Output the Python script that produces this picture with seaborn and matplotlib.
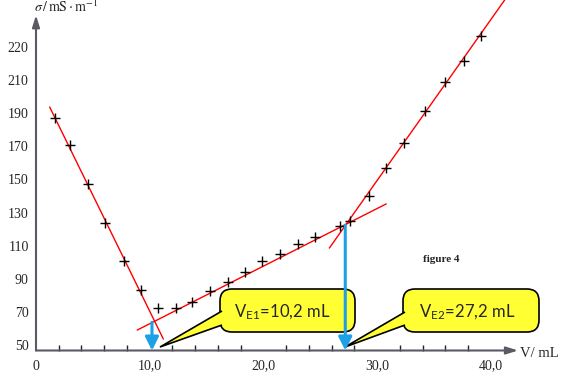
import matplotlib
matplotlib.use("Agg")
import matplotlib.pyplot as plt
import matplotlib.ticker as ticker
from matplotlib.patches import FancyBboxPatch, Polygon
import seaborn as sns
import numpy as np

# titration data: volume (mL) and conductivity
V = [1.7, 3.0, 4.6, 6.1, 7.7, 9.2, 10.7, 12.3, 13.7, 15.3, 16.9, 18.4, 19.9,
     21.5, 23.0, 24.5, 26.7, 27.6, 29.3, 30.8, 32.4, 34.2, 36.0, 37.6, 39.1]
sigma = [190.1, 173.8, 150.3, 126.8, 103.9, 86.4, 75.6, 75.6, 79.2, 85.8, 91.3,
         97.3, 103.9, 108.1, 114.2, 118.4, 125.0, 128.0, 143.1, 159.9, 175.0,
         194.3, 211.7, 224.4, 239.5]

# fitted straight lines (end points)
line1_x = [1.2, 11.2]
line1_y = [196.7, 56.9]
line2_x = [8.9, 30.8]
line2_y = [62.3, 138.3]
line3_x = [25.8, 42.0]
line3_y = [111.7, 268.7]

# equivalence volumes
VE = [10.2, 27.2]
VE_sigma = [67.0, 125.5]
VE_text = [r"V$_{\mathregular{E1}}$=10,2 mL", r"V$_{\mathregular{E2}}$=27,2 mL"]

yticks = [50, 70, 90, 110, 130, 150, 170, 190, 210, 230]
ylabels = ["50", "70", "90", "110", "130", "150", "170", "190", "210", "220"]
xticks = [0, 10, 20, 30, 40]
xlabels = ["0", "10,0", "20,0", "30,0", "40,0"]
xminor = [2, 4, 6, 8, 12, 14, 16, 18, 22, 24, 26, 28, 32, 34, 36, 38]

sns.set_style("white")
plt.rcParams["font.family"] = ["Liberation Serif", "DejaVu Serif"]
plt.rcParams["mathtext.fontset"] = "stix"

fig = plt.figure(figsize=(5.61, 3.77), dpi=100)
ax = fig.add_axes([36/561, 26.5/377, 525/561, 350.5/377])
ax.set_xlim(0, 525/11.37)
ax.set_ylim(50, 50 + 350.5/1.66)

axcol = "#5a5a66"
for s in ax.spines.values():
    s.set_visible(False)

# axes with arrows
ax.annotate("", xy=(42.4, 50), xytext=(0, 50),
            arrowprops=dict(arrowstyle="-|>,head_length=0.7,head_width=0.22",
                            color=axcol, lw=1.5, mutation_scale=10, shrinkA=0, shrinkB=0),
            annotation_clip=False)
ax.annotate("", xy=(0, 252), xytext=(0, 50),
            arrowprops=dict(arrowstyle="-|>,head_length=0.7,head_width=0.22",
                            color=axcol, lw=1.5, mutation_scale=10, shrinkA=0, shrinkB=0),
            annotation_clip=False)

# fitted lines
for lx, ly in [(line1_x, line1_y), (line2_x, line2_y), (line3_x, line3_y)]:
    sns.lineplot(x=lx, y=ly, color="red", lw=1, sort=False, ax=ax, zorder=2)

# measurements
sns.scatterplot(x=V, y=sigma, marker="+", color="black", s=45, linewidth=1,
                 ax=ax, zorder=3)

# callout boxes (inch coordinates)
tr = fig.dpi_scale_trans
boxes = [(220, 289, 135, 43), (403, 289, 136, 43)]
tails = [[(222, 311), (160, 347), (222, 325)], [(405, 312), (345, 347), (405, 325)]]
centres = [(282, 312), (467, 312)]
for (bx, by, bw, bh), tail, (cx, cy), txt in zip(boxes, tails, centres, VE_text):
    box = FancyBboxPatch((bx/100, (377 - by - bh)/100), bw/100, bh/100,
                         boxstyle="round,pad=0,rounding_size=0.12",
                         facecolor="#ffff33", edgecolor="black", lw=1.2,
                         transform=tr, zorder=5, clip_on=False)
    ax.add_patch(box)
    pts = [(px/100, (377 - py)/100) for px, py in tail]
    ax.add_patch(Polygon(pts, closed=True, facecolor="#ffff33", edgecolor="none",
                         transform=tr, zorder=6, clip_on=False))
    ax.add_patch(Polygon(pts, closed=False, fill=False, edgecolor="black", lw=1.2,
                         transform=tr, zorder=6, clip_on=False))
    ax.text(cx/100, (377 - cy)/100, txt, family=["Lato", "DejaVu Sans"], fontsize=12,
            ha="center", va="center", transform=tr, zorder=7)

# blue arrows down to the x axis
for ve, sv in zip(VE, VE_sigma):
    ax.annotate("", xy=(ve, 50), xytext=(ve, sv),
                arrowprops=dict(arrowstyle="-|>,head_length=0.8,head_width=0.4",
                                color="#1ca0e6", lw=2.2, mutation_scale=10,
                                shrinkA=0, shrinkB=0), zorder=8)

ax.set_xticks(xticks)
ax.set_xticklabels(xlabels)
ax.xaxis.set_minor_locator(ticker.FixedLocator(xminor))
ax.set_yticks(yticks)
ax.set_yticklabels(ylabels)
ax.tick_params(axis="y", which="major", direction="inout", length=8.5, width=1.4,
               color="#222222", pad=1, labelsize=10)
ax.tick_params(axis="x", which="major", direction="inout", length=7, width=1.2,
               color="#222222", pad=3, labelsize=10)
ax.tick_params(axis="x", which="minor", direction="in", length=4, width=1,
               color="#222222", bottom=True)
for lbl in ax.get_yticklabels():
    lbl.set_va("baseline")

fig.text(34/561, 1 - 12/377, r"$\sigma\,/\,\mathrm{mS}\cdot\mathrm{m}^{-1}$",
         fontsize=10, va="baseline", ha="left")
fig.text(520/561, 1 - 357/377, "V/ mL", fontsize=10.5, va="baseline", ha="left")
fig.text(441/561, 1 - 259/377, "figure 4", fontsize=8, weight="bold",
         va="center", ha="center")

fig.savefig("out.png", dpi=100)
